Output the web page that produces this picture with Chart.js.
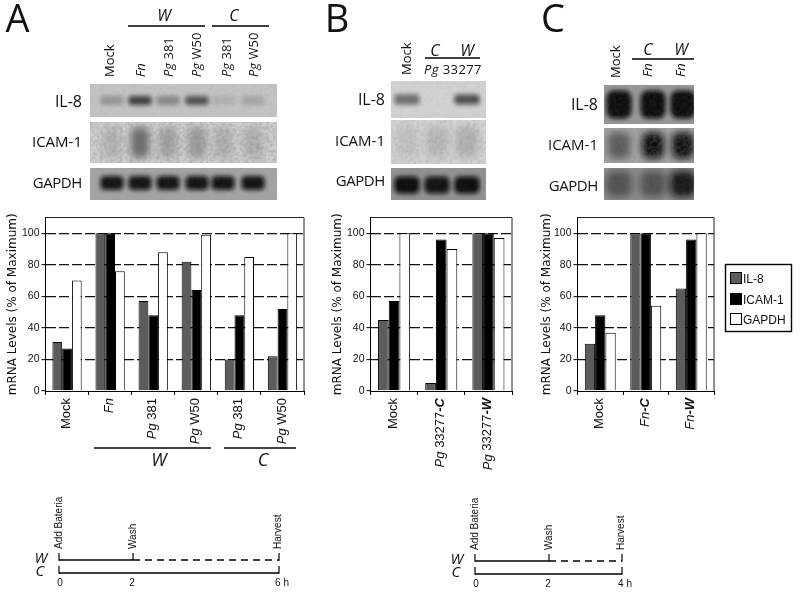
<!DOCTYPE html>
<html>
<head>
<meta charset="utf-8">
<script src="https://cdn.jsdelivr.net/npm/chart.js@4"></script>
<style>
  html, body { margin: 0; padding: 0; background: #fff; }
  #page { position: relative; width: 800px; height: 597px; overflow: hidden; }
  canvas { position: absolute; }
  #overlay { position: absolute; left: 0; top: 0; }
</style>
</head>
<body>
<div id="page">
  <canvas id="chartA" width="320" height="300" style="left:0;top:205px"></canvas>
  <canvas id="chartB" width="200" height="300" style="left:320px;top:205px"></canvas>
  <canvas id="chartC" width="200" height="300" style="left:520px;top:205px"></canvas>
  <svg id="overlay" width="800" height="597" xmlns="http://www.w3.org/2000/svg"></svg>
</div>
<script>
// Данные графиков
const seriesNames = ['IL-8', 'ICAM-1', 'GAPDH'];
const seriesColors = ['#5c5c5c', '#000000', '#ffffff'];

const categoriesA = ['Mock', 'Fn', 'Pg 381', 'Pg W50', 'Pg 381', 'Pg W50'];
const il8A = [31, 100, 57, 82, 20, 22];
const icamA = [27, 100, 48, 64, 48, 52];
const gapdhA = [70, 76, 88, 99, 85, 100];

const categoriesB = ['Mock', 'Pg 33277-C', 'Pg 33277-W'];
const il8B = [45, 5, 100];
const icamB = [57, 96, 100];
const gapdhB = [100, 90, 97];

const categoriesC = ['Mock', 'Fn-C', 'Fn-W'];
const il8C = [30, 100, 65];
const icamC = [48, 100, 96];
const gapdhC = [37, 54, 100];

const yTicks = [0, 20, 40, 60, 80, 100];

// Интенсивность полос на блотах (0..1) по дорожкам
const blotIl8A = [0.24, 0.72, 0.32, 0.62, 0.1, 0.16];
const blotIcamA = [0.12, 0.5, 0.22, 0.25, 0.14, 0.15];
const blotGapdhA = [0.95, 0.95, 0.95, 0.95, 0.95, 0.95];
const blotIl8B = [0.5, 0, 0.65];
const blotIcamB = [0.08, 0.13, 0.16];
const blotGapdhB = [1, 0.95, 1];
const blotIl8C = [1, 1, 1];
const blotIcamC = [0.5, 1, 1];
const blotGapdhC = [0.45, 0.45, 0.9];

// Рамка вокруг области построения
const framePlugin = {
  id: 'frame',
  afterDatasetsDraw(chart) {
    const { ctx, chartArea: a } = chart;
    ctx.save();
    ctx.strokeStyle = '#222';
    ctx.lineWidth = 1;
    ctx.beginPath();
    ctx.moveTo(a.left, a.top);
    ctx.lineTo(a.right, a.top);
    ctx.lineTo(a.right, a.bottom);
    ctx.stroke();
    ctx.restore();
  }
};

// Подписи по оси X: повёрнутые, Pg/Fn курсивом, -C/-W жирным курсивом
function labelRuns(label, size) {
  const m = label.match(/^(Pg|Fn)?(.*?)(-[CW])?$/);
  const runs = [];
  const family = '"Liberation Sans"';
  if (m[1]) runs.push([m[1], `italic ${size}px ${family}`]);
  if (m[2]) runs.push([m[2], `${size}px ${family}`]);
  if (m[3]) runs.push([m[3], `italic bold ${size}px ${family}`]);
  return runs;
}

const richLabelsPlugin = {
  id: 'richLabels',
  afterDraw(chart) {
    const { ctx, scales } = chart;
    const x = scales.x;
    chart.data.labels.forEach((label, i) => {
      const runs = labelRuns(label, 13);
      let total = 0;
      runs.forEach(r => { ctx.font = r[1]; total += ctx.measureText(r[0]).width; });
      ctx.save();
      ctx.translate(x.getPixelForValue(i) - 0.5, x.top + 7);
      ctx.rotate(-Math.PI / 2);
      ctx.fillStyle = '#111';
      ctx.textBaseline = 'middle';
      ctx.textAlign = 'left';
      let pos = -total;
      runs.forEach(r => {
        ctx.font = r[1];
        ctx.fillText(r[0], pos, 0);
        pos += ctx.measureText(r[0]).width;
      });
      ctx.restore();
    });
  }
};

function makeChart(id, labels, il8, icam, gapdh, yWidth, right, titlePad) {
  const values = [il8, icam, gapdh];
  return new Chart(document.getElementById(id), {
    type: 'bar',
    data: {
      labels,
      datasets: seriesNames.map((name, i) => ({
        label: name,
        data: values[i],
        backgroundColor: seriesColors[i],
        borderColor: '#000',
        borderWidth: 1,
        barPercentage: 1,
        categoryPercentage: 0.68
      }))
    },
    options: {
      responsive: false,
      animation: false,
      layout: { padding: { top: 12.5, right, left: 0, bottom: 0 } },
      plugins: { legend: { display: false }, tooltip: { enabled: false } },
      scales: {
        x: {
          grid: { offset: true, drawOnChartArea: false, color: '#000', tickLength: 4, tickColor: '#000' },
          border: { color: '#000' },
          ticks: { display: false },
          afterFit(s) { s.height = 114; }
        },
        y: {
          min: 0,
          max: 110,
          afterBuildTicks(s) { s.ticks = yTicks.map(value => ({ value })); },
          grid: {
            color: c => (c.tick && c.tick.value === 0 ? 'rgba(0,0,0,0)' : '#111'),
            lineWidth: 1.3,
            tickLength: 4,
            tickColor: '#000',
            tickBorderDash: [],
            tickWidth: 1
          },
          border: { color: '#000', dash: [10, 3] },
          ticks: { color: '#111', padding: 2, font: { family: '"Liberation Sans"', size: 10.5 } },
          title: {
            display: true,
            text: 'mRNA Levels (% of Maximum)',
            color: '#111',
            padding: { top: titlePad, bottom: 0 },
            font: { family: '"DejaVu Sans"', size: 12 }
          },
          afterFit(s) { s.width = yWidth; }
        }
      }
    },
    plugins: [framePlugin, richLabelsPlugin]
  });
}

makeChart('chartA', categoriesA, il8A, icamA, gapdhA, 45.5, 16, 6);
makeChart('chartB', categoriesB, il8B, icamB, gapdhB, 50.5, 8, 11);
makeChart('chartC', categoriesC, il8C, icamC, gapdhC, 57.5, 6, 20);

// Всё, что вокруг графиков: блоты, подписи, схемы времени
const svg = [];
const sans = '"Open Sans"';
const plain = '"Liberation Sans"';

function text(x, y, str, opts = {}) {
  const { size = 13, anchor = 'middle', family = sans, style = 'normal', weight = 'normal', rotate = false, spacing = 0 } = opts;
  const tf = rotate ? ` transform="rotate(-90 ${x} ${y})"` : '';
  svg.push(`<text x="${x}" y="${y}" font-size="${size}" text-anchor="${anchor}" font-family='${family}' font-style="${style}" font-weight="${weight}" letter-spacing="${spacing}" fill="#111"${tf}>${str}</text>`);
}
function line(x1, y1, x2, y2, width = 1.4, dash = '') {
  svg.push(`<line x1="${x1}" y1="${y1}" x2="${x2}" y2="${y2}" stroke="#000" stroke-width="${width}"${dash ? ` stroke-dasharray="${dash}"` : ''}/>`);
}
const pg = '<tspan font-style="italic">Pg</tspan>';
const fn = '<tspan font-style="italic">Fn</tspan>';

svg.push(`<defs>
  <filter id="blur3" x="-50%" y="-50%" width="200%" height="200%"><feGaussianBlur stdDeviation="3.5"/></filter>
  <filter id="blur2" x="-50%" y="-50%" width="200%" height="200%"><feGaussianBlur stdDeviation="2.2"/></filter>
  <filter id="noise"><feTurbulence type="fractalNoise" baseFrequency="0.3" numOctaves="2" seed="4"/>
    <feColorMatrix values="0 0 0 0 0.2  0 0 0 0 0.2  0 0 0 0 0.2  1.8 0 0 0 -0.6"/></filter>
</defs>`);

let clipId = 0;
function blot(x, y, w, h, bg, lanes, levels, bandW, bandH, bandDy, noise, filter) {
  const id = `c${clipId++}`;
  svg.push(`<clipPath id="${id}"><rect x="${x}" y="${y}" width="${w}" height="${h}"/></clipPath><g clip-path="url(#${id})">`);
  svg.push(`<rect x="${x}" y="${y}" width="${w}" height="${h}" fill="${bg}"/>`);
  levels.forEach((v, i) => {
    if (v <= 0) return;
    const cy = y + h / 2 + bandDy;
    svg.push(`<rect x="${lanes[i] - bandW}" y="${cy - bandH}" width="${bandW * 2}" height="${bandH * 2}" rx="${Math.min(bandW, bandH) * 0.6}" fill="#0a0a0a" opacity="${v}" filter="url(#${filter})"/>`);
  });
  svg.push(`<rect x="${x}" y="${y}" width="${w}" height="${h}" filter="url(#noise)" opacity="${noise}"/></g>`);
}

// Панель A
const lanesA = [112, 140, 168, 197, 223, 253];
blot(90, 84, 187, 33, '#c4c4c4', lanesA, blotIl8A, 11.5, 4.5, 0, 0.12, 'blur2');
blot(90, 122, 187, 41, '#cfcfcf', lanesA, blotIcamA, 9, 15, 0, 0.4, 'blur3');
blot(90, 168, 187, 32, '#a4a4a4', lanesA, blotGapdhA, 11.5, 7, -1, 0.1, 'blur2');
// Панель B
const lanesB = [407, 437, 467];
blot(391, 81, 95, 37, '#d2d2d2', lanesB, blotIl8B, 12.5, 5, 0, 0.08, 'blur2');
blot(391, 120, 95, 44, '#d4d4d4', lanesB, blotIcamB, 11, 15, 0, 0.25, 'blur3');
blot(391, 168, 95, 32, '#929292', lanesB, blotGapdhB, 12.5, 8.5, 1, 0.1, 'blur2');
// Панель C
const lanesC = [619, 653, 683];
blot(604, 85, 90, 39, '#989898', lanesC, blotIl8C, 12.5, 14, 0, 0.15, 'blur2');
blot(604, 128, 90, 35, '#a8a8a8', lanesC, blotIcamC, 11, 13, 0, 0.4, 'blur3');
blot(604, 168, 90, 32, '#8e8e8e', lanesC, blotGapdhC, 13, 13, 0, 0.15, 'blur3');

// Буквы панелей
text(17.5, 32, 'A', { size: 38 });
text(337, 32, 'B', { size: 38 });
text(553, 32, 'C', { size: 38 });

// Подписи строк блотов
const rowLabels = ['IL-8', 'ICAM-1', 'GAPDH'];
[[82, [107, 147, 188]], [385, [105, 146, 186]], [598, [110, 150, 191]]].forEach(([x, ys]) => {
  rowLabels.forEach((r, i) => text(x, ys[i], r, { size: i === 0 ? 16 : 15, anchor: 'end', spacing: i === 2 ? -0.4 : 0 }));
});

// Верх панели A
[['Mock', 114], [fn, 145], [pg + ' 381', 173], [pg + ' W50', 201], [pg + ' 381', 231], [pg + ' W50', 258]].forEach(([s, x]) => {
  text(x, 77, s, { rotate: true, anchor: 'start', size: 13, family: sans });
});
line(128, 26, 205, 26); line(212, 26, 269, 26);
text(164, 21, 'W', { size: 16, style: 'italic' });
text(234, 21, 'C', { size: 16, style: 'italic' });

// Верх панели B
text(411, 75, 'Mock', { rotate: true, anchor: 'start', size: 13 });
line(425, 58, 480, 58);
text(435, 56, 'C', { size: 16, style: 'italic' });
text(467, 56, 'W', { size: 16, style: 'italic' });
text(453, 74, pg + ' 33277', { size: 13, spacing: 0.4 });

// Верх панели C
text(620, 78, 'Mock', { rotate: true, anchor: 'start', size: 13 });
line(632, 59, 694, 59);
text(648, 55, 'C', { size: 16, style: 'italic' });
text(681, 55, 'W', { size: 16, style: 'italic' });
text(652, 77, fn, { rotate: true, anchor: 'start', size: 13 });
text(685, 77, fn, { rotate: true, anchor: 'start', size: 13 });

// Группы под графиком A
line(94, 448, 211, 448); line(224, 448, 296, 448);
text(159, 466, 'W', { size: 18, style: 'italic' });
text(263, 466, 'C', { size: 18, style: 'italic' });

// Схемы времени
function timeline(x0, x1, x2, yW, yC, endLabel, labelX, midLabelX) {
  line(x0, yW, x1, yW);
  line(x1, yW, x2, yW, 1.4, '7 5');
  line(x0, yW - 7, x0, yW + 0.7, 1.2); line(x1, yW - 7, x1, yW, 1.2); line(x2, yW - 7, x2, yW + 0.7, 1.2);
  line(x0, yC, x2, yC);
  line(x0, yC - 7, x0, yC + 0.7, 1.2); line(x2, yC - 7, x2, yC + 0.7, 1.2);
  text(x0 + 3, yW - 11, 'Add Bateria', { rotate: true, anchor: 'start', size: 10, family: plain });
  text(x1 + 3, yW - 11, 'Wash', { rotate: true, anchor: 'start', size: 10, family: plain });
  text(x2 + 2, yW - 11, 'Harvest', { rotate: true, anchor: 'start', size: 10, family: plain });
  text(x0 + 1, yC + 13, '0', { size: 10, family: plain });
  text(midLabelX, yC + 13, '2', { size: 10, family: plain });
  text(labelX, yC + 13, endLabel, { size: 10, family: plain });
  text(x0 - 18, yW + 3, 'W', { size: 15, style: 'italic', family: sans });
  text(x0 - 19, yC + 3, 'C', { size: 15, style: 'italic', family: sans });
}
timeline(59, 133, 279, 560, 573, '6 h', 282, 132);
timeline(475, 549, 622, 561, 574, '4 h', 625, 548);

// Легенда
svg.push('<rect x="725.5" y="264.5" width="66" height="67" fill="#fff" stroke="#000" stroke-width="1.4"/>');
[278, 299, 319].forEach((y, i) => {
  svg.push(`<rect x="730.5" y="${y - 5.5}" width="11" height="11" fill="${seriesColors[i]}" stroke="#000"/>`);
  text(743, y + 4.5, seriesNames[i], { size: 12, anchor: 'start', family: plain, spacing: 0 });
});

document.getElementById('overlay').innerHTML = svg.join('\n');
</script>
</body>
</html>
